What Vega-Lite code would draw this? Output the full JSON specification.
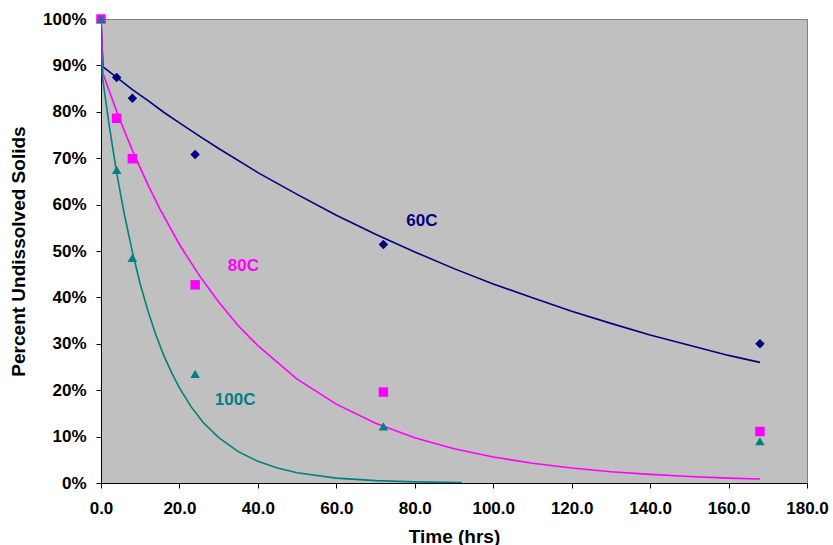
{
  "$schema": "https://vega.github.io/schema/vega-lite/v6.json",
  "width": 706,
  "height": 464,
  "autosize": {"type": "none"},
  "padding": {"left": 101, "top": 19, "right": 26, "bottom": 62},
  "background": "white",
  "config": {
    "view": {"fill": "#c0c0c0", "stroke": "#808080", "strokeWidth": 1},
    "axis": {
      "labelFont": "Liberation Sans", "labelFontWeight": "bold", "labelFontSize": 17, "labelColor": "black",
      "titleFont": "Liberation Sans", "titleFontWeight": "bold", "titleFontSize": 19, "titleColor": "black",
      "domainColor": "black", "tickColor": "black", "tickSize": 5, "grid": false
    }
  },
  "datasets": {
    "curves": [
      {"series": "60C", "t": 0, "pct": 100},
      {"series": "60C", "t": 0.5, "pct": 89.7},
      {"series": "60C", "t": 2, "pct": 88.7},
      {"series": "60C", "t": 4, "pct": 87.4},
      {"series": "60C", "t": 8, "pct": 84.8},
      {"series": "60C", "t": 12, "pct": 82.4},
      {"series": "60C", "t": 16, "pct": 79.9},
      {"series": "60C", "t": 20, "pct": 77.6},
      {"series": "60C", "t": 25, "pct": 74.8},
      {"series": "60C", "t": 30, "pct": 72.1},
      {"series": "60C", "t": 40, "pct": 66.9},
      {"series": "60C", "t": 50, "pct": 62.2},
      {"series": "60C", "t": 60, "pct": 57.7},
      {"series": "60C", "t": 70, "pct": 53.6},
      {"series": "60C", "t": 80, "pct": 49.8},
      {"series": "60C", "t": 90, "pct": 46.2},
      {"series": "60C", "t": 100, "pct": 42.9},
      {"series": "60C", "t": 110, "pct": 39.9},
      {"series": "60C", "t": 120, "pct": 37.0},
      {"series": "60C", "t": 130, "pct": 34.4},
      {"series": "60C", "t": 140, "pct": 31.9},
      {"series": "60C", "t": 150, "pct": 29.7},
      {"series": "60C", "t": 160, "pct": 27.5},
      {"series": "60C", "t": 168, "pct": 26.0},
      {"series": "80C", "t": 0, "pct": 100},
      {"series": "80C", "t": 0.5, "pct": 88.3},
      {"series": "80C", "t": 2, "pct": 84.7},
      {"series": "80C", "t": 4, "pct": 80.1},
      {"series": "80C", "t": 6, "pct": 75.8},
      {"series": "80C", "t": 8, "pct": 71.7},
      {"series": "80C", "t": 10, "pct": 67.9},
      {"series": "80C", "t": 12, "pct": 64.2},
      {"series": "80C", "t": 15, "pct": 59.1},
      {"series": "80C", "t": 20, "pct": 51.4},
      {"series": "80C", "t": 25, "pct": 44.8},
      {"series": "80C", "t": 30, "pct": 39.0},
      {"series": "80C", "t": 35, "pct": 33.9},
      {"series": "80C", "t": 40, "pct": 29.6},
      {"series": "80C", "t": 50, "pct": 22.4},
      {"series": "80C", "t": 60, "pct": 17.0},
      {"series": "80C", "t": 70, "pct": 12.9},
      {"series": "80C", "t": 80, "pct": 9.76},
      {"series": "80C", "t": 90, "pct": 7.40},
      {"series": "80C", "t": 100, "pct": 5.61},
      {"series": "80C", "t": 110, "pct": 4.25},
      {"series": "80C", "t": 120, "pct": 3.22},
      {"series": "80C", "t": 130, "pct": 2.44},
      {"series": "80C", "t": 140, "pct": 1.85},
      {"series": "80C", "t": 150, "pct": 1.40},
      {"series": "80C", "t": 160, "pct": 1.06},
      {"series": "80C", "t": 168, "pct": 0.85},
      {"series": "100C", "t": 0, "pct": 100},
      {"series": "100C", "t": 0.3, "pct": 88.0},
      {"series": "100C", "t": 1, "pct": 83.6},
      {"series": "100C", "t": 2, "pct": 77.6},
      {"series": "100C", "t": 3, "pct": 72.1},
      {"series": "100C", "t": 4, "pct": 66.9},
      {"series": "100C", "t": 5, "pct": 62.2},
      {"series": "100C", "t": 6, "pct": 57.7},
      {"series": "100C", "t": 8, "pct": 49.8},
      {"series": "100C", "t": 10, "pct": 42.9},
      {"series": "100C", "t": 12, "pct": 37.0},
      {"series": "100C", "t": 14, "pct": 31.9},
      {"series": "100C", "t": 16, "pct": 27.5},
      {"series": "100C", "t": 18, "pct": 23.8},
      {"series": "100C", "t": 20, "pct": 20.5},
      {"series": "100C", "t": 23, "pct": 16.4},
      {"series": "100C", "t": 26, "pct": 13.1},
      {"series": "100C", "t": 30, "pct": 9.77},
      {"series": "100C", "t": 35, "pct": 6.75},
      {"series": "100C", "t": 40, "pct": 4.66},
      {"series": "100C", "t": 45, "pct": 3.22},
      {"series": "100C", "t": 50, "pct": 2.22},
      {"series": "100C", "t": 60, "pct": 1.06},
      {"series": "100C", "t": 70, "pct": 0.51},
      {"series": "100C", "t": 80, "pct": 0.24},
      {"series": "100C", "t": 92, "pct": 0.10}
    ],
    "points": [
      {"series": "60C", "t": 4, "pct": 87.4},
      {"series": "60C", "t": 8, "pct": 82.9},
      {"series": "60C", "t": 24, "pct": 70.8},
      {"series": "60C", "t": 72, "pct": 51.4},
      {"series": "60C", "t": 168, "pct": 30.0},
      {"series": "80C", "t": 0, "pct": 100},
      {"series": "80C", "t": 4, "pct": 78.6},
      {"series": "80C", "t": 8, "pct": 69.9},
      {"series": "80C", "t": 24, "pct": 42.7},
      {"series": "80C", "t": 72, "pct": 19.6},
      {"series": "80C", "t": 168, "pct": 11.1},
      {"series": "100C", "t": 0, "pct": 100},
      {"series": "100C", "t": 4, "pct": 67.5},
      {"series": "100C", "t": 8, "pct": 48.5},
      {"series": "100C", "t": 24, "pct": 23.5},
      {"series": "100C", "t": 72, "pct": 12.2},
      {"series": "100C", "t": 168, "pct": 9.0}
    ],
    "labels": [
      {"series": "60C", "t": 81.8, "pct": 56.5},
      {"series": "80C", "t": 36.3, "pct": 46.8},
      {"series": "100C", "t": 34.2, "pct": 17.8}
    ]
  },
  "encoding": {
    "x": {
      "field": "t", "type": "quantitative",
      "scale": {"domain": [0, 180], "nice": false, "zero": false},
      "axis": {"title": "Time (hrs)", "values": [0, 20, 40, 60, 80, 100, 120, 140, 160, 180], "format": ".1f", "labelPadding": 12, "titlePadding": 11, "labelFlush": false}
    },
    "y": {
      "field": "pct", "type": "quantitative",
      "scale": {"domain": [0, 100], "nice": false},
      "axis": {"title": "Percent Undissolved Solids", "values": [0, 10, 20, 30, 40, 50, 60, 70, 80, 90, 100], "labelExpr": "datum.value + '%'", "labelPadding": 10, "titlePadding": 14}
    },
    "color": {
      "field": "series", "type": "nominal",
      "scale": {"domain": ["60C", "80C", "100C"], "range": ["#000080", "#ff00ff", "#008080"]},
      "legend": null
    }
  },
  "layer": [
    {
      "data": {"name": "curves"},
      "mark": {"type": "line", "strokeWidth": 1.6, "clip": true},
      "encoding": {"detail": {"field": "series"}}
    },
    {
      "data": {"name": "points"},
      "mark": {"type": "point", "filled": true, "opacity": 1},
      "encoding": {
        "shape": {
          "field": "series", "type": "nominal",
          "scale": {"domain": ["60C", "80C", "100C"], "range": ["diamond", "square", "triangle-up"]},
          "legend": null
        },
        "size": {
          "field": "series", "type": "nominal",
          "scale": {"domain": ["60C", "80C", "100C"], "range": [90, 90, 120]},
          "legend": null
        }
      }
    },
    {
      "data": {"name": "labels"},
      "mark": {"type": "text", "font": "Liberation Sans", "fontWeight": "bold", "fontSize": 17, "align": "center", "baseline": "middle"},
      "encoding": {"text": {"field": "series"}}
    }
  ]
}
